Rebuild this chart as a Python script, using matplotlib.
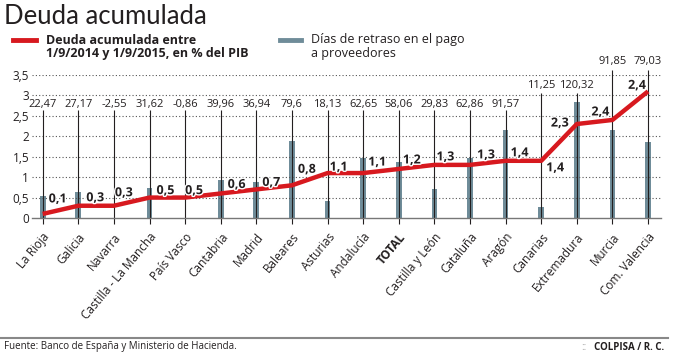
import matplotlib.pyplot as plt
import matplotlib.patheffects as pe
import numpy as np

plt.rcParams['font.family'] = ['Open Sans', 'DejaVu Sans']

# data
regiones = ["La Rioja", "Galicia", "Navarra", "Castilla - La Mancha", "País Vasco",
            "Cantabria", "Madrid", "Baleares", "Asturias", "Andalucía", "TOTAL",
            "Castilla y León", "Cataluña", "Aragón", "Canarias", "Extremadura",
            "Murcia", "Com. Valencia"]
deuda = [0.1, 0.3, 0.3, 0.5, 0.5, 0.6, 0.7, 0.8, 1.1, 1.1, 1.2, 1.3, 1.3, 1.4, 1.4,
         2.3, 2.4, 3.1]
deuda_txt = ["0,1", "0,3", "0,3", "0,5", "0,5", "0,6", "0,7", "0,8", "1,1", "1,1",
             "1,2", "1,3", "1,3", "1,4", "1,4", "2,3", "2,4", "2,4"]
dias = [22.47, 27.17, -2.55, 31.62, -0.86, 39.96, 36.94, 79.6, 18.13, 62.65, 58.06,
        29.83, 62.86, 91.57, 11.25, 120.32, 91.85, 79.03]
yticks = [0, 0.5, 1, 1.5, 2, 2.5, 3, 3.5]

RED = "#d7191f"
BAR = "#6f8c99"
DARK = "#231f20"

W, H = 674, 356
fig = plt.figure(figsize=(W / 100, H / 100), dpi=100)

x = np.arange(len(regiones))
ax = fig.add_axes([32 / W, (H - 218) / H, (660.5 - 32) / W, 143 / H])
ax.set_xlim(-0.3, len(regiones) - 0.65)
ax.set_ylim(0, 3.5)

# bars on their own scale (days)
ax2 = ax.twinx()
ax2.set_ylim(0, 3.5 * 42.5)
ax2.bar(x, dias, width=0.16, color=BAR, zorder=2)
ax2.set_yticks([])
for s in ax2.spines.values():
    s.set_visible(False)
ax.set_zorder(ax2.get_zorder() + 1)
ax.patch.set_visible(False)

for yv in yticks[1:]:
    ax.axhline(yv, color="#555555", lw=0.8, ls=(0, (1, 2)), zorder=0)
ax.set_yticks(yticks)
ax.set_yticklabels([f"{v:g}".replace(".", ",") for v in yticks], fontsize=8.5, color=DARK)
ax.tick_params(axis="y", length=0, pad=2)

# value labels for days + leader lines
nivel = [0] * 14 + [1, 1, 2, 2]
lab_y = {0: 2.79, 1: 3.25, 2: 3.84}
top_y = {0: 2.65, 1: 3.05, 2: 3.62}
for i, v in enumerate(dias):
    ax.vlines(i, 0, top_y[nivel[i]], color=DARK, lw=0.8, zorder=1, clip_on=False)
    ax.text(i, lab_y[nivel[i]], f"{v:g}".replace(".", ","), ha="center", va="center",
            fontsize=8, color=DARK, clip_on=False)

ax.plot(x, deuda, color=RED, lw=3.2, solid_capstyle="butt", zorder=5)

offs = [(15, 15), (17, 8), (10, 13), (16, 7), (9, 7), (16, 9), (15, 7), (15, 16),
        (11, 6), (14, 11), (13, 9), (11, 8), (16, 10), (14, 8), (14, -7), (-17, 1),
        (-12, 8), (-11, 6)]
for i, (v, t) in enumerate(zip(deuda, deuda_txt)):
    dx, dy = offs[i]
    ax.annotate(t, (i, v), xytext=(dx * 0.72, dy * 0.72), textcoords="offset points",
                ha="center", va="center", fontsize=9, fontweight="bold", color=DARK,
                zorder=6, path_effects=[pe.withStroke(linewidth=2, foreground="white")])

ax.set_xticks(x)
ax.set_xticklabels(regiones, rotation=50, ha="right", va="top", rotation_mode="anchor",
                   fontsize=8.5, color=DARK)
ax.get_xticklabels()[10].set_fontweight("bold")
ax.tick_params(axis="x", length=4, width=0.8, color=DARK, pad=5)
for s in ["top", "right", "left"]:
    ax.spines[s].set_visible(False)
ax.spines["bottom"].set_color("#777777")
ax.spines["bottom"].set_linewidth(1)

# title and legend
fig.text(4 / W, 1 - 16 / H, "Deuda acumulada", fontsize=18.5, fontweight="normal",
         family=["Lato", "DejaVu Sans"], color=DARK, va="center")
fig.add_artist(plt.Line2D([13 / W, 36 / W], [1 - 40 / H] * 2, color=RED, lw=3.5))
fig.text(46 / W, 1 - 47 / H, "Deuda acumulada entre\n1/9/2014 y 1/9/2015, en % del PIB",
         fontsize=9, fontweight="bold", color=DARK, va="center", linespacing=1.1)
fig.add_artist(plt.Line2D([280 / W, 301 / W], [1 - 40 / H] * 2, color=BAR, lw=3.5))
fig.text(311 / W, 1 - 47 / H, "Días de retraso en el pago\na proveedores",
         fontsize=9, color=DARK, va="center", linespacing=1.1)

# footer
fig.add_artist(plt.Line2D([0, 668 / W], [1 - 338 / H] * 2, color="#888888", lw=1.5))
fig.text(4 / W, 1 - 346 / H, "Fuente: Banco de España y Ministerio de Hacienda.",
         fontsize=7, color=DARK, va="center")
fig.text(664 / W, 1 - 347 / H, "COLPISA / R. C.", fontsize=7, fontweight="bold",
         color=DARK, va="center", ha="right")
fig.text(586 / W, 1 - 347 / H, "::", fontsize=7, color="#aaaaaa", va="center", ha="right")

fig.savefig("out.png", dpi=100)
